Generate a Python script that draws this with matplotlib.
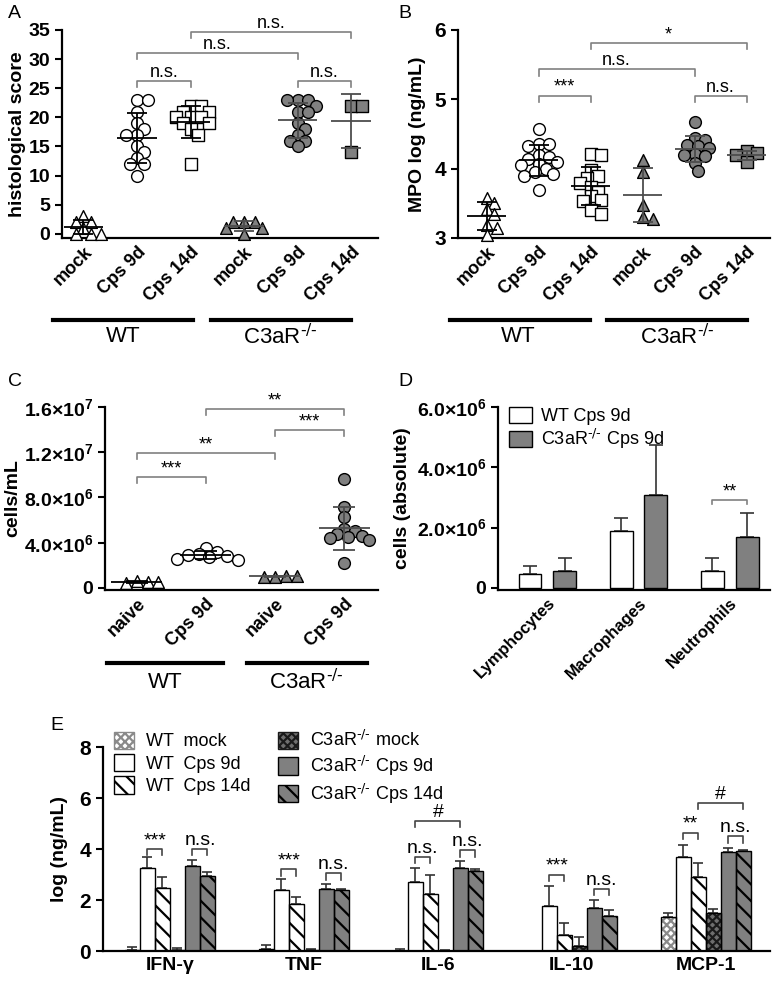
import matplotlib
matplotlib.use('Agg')
import matplotlib.pyplot as plt
from matplotlib.lines import Line2D
from matplotlib.patches import Patch
from matplotlib.transforms import blended_transform_factory
import numpy as np

plt.rcParams['font.family'] = ['Liberation Sans', 'DejaVu Sans']
plt.rcParams['mathtext.default'] = 'regular'
plt.rcParams['hatch.linewidth'] = 1.6
plt.rcParams['axes.linewidth'] = 1.6

KO = r'C3aR$^{\text{-/-}}$'
GRAY = '#808080'

# ---- A: histological score
groups_a = ['mock', 'Cps 9d', 'Cps 14d', 'mock', 'Cps 9d', 'Cps 14d']
hist_wt_mock = [3, 2, 2, 1, 0, 0, 0]
hist_wt_9d = [23, 23, 21, 19, 18, 17, 17, 15, 14, 13, 12, 12, 10]
hist_wt_14d = [22, 22, 21, 21, 20, 20, 20, 19, 19, 18, 17, 12]
hist_ko_mock = [2, 2, 2, 1, 1, 0]
hist_ko_9d = [23, 23, 23, 22, 21, 21, 19, 18, 17, 16, 16, 15]
hist_ko_14d = [22, 22, 14]

# ---- B: MPO log (ng/mL)
mpo_wt_mock = [3.58, 3.5, 3.42, 3.35, 3.18, 3.15, 3.05]
mpo_wt_9d = [4.57, 4.36, 4.35, 4.32, 4.2, 4.17, 4.14, 4.1, 4.07, 4.05, 4.0, 3.95, 3.92, 3.89, 3.69]
mpo_wt_14d = [4.21, 4.19, 3.98, 3.89, 3.87, 3.79, 3.74, 3.67, 3.6, 3.55, 3.53, 3.4, 3.34]
mpo_ko_mock = [4.12, 3.95, 3.47, 3.3, 3.28]
mpo_ko_9d = [4.67, 4.44, 4.42, 4.34, 4.33, 4.3, 4.21, 4.2, 4.18, 4.08, 3.96]
mpo_ko_14d = [4.25, 4.23, 4.19, 4.1]

# ---- C: cells/mL (x1e6)
groups_c = ['naive', 'Cps 9d', 'naive', 'Cps 9d']
cells_wt_naive = [0.6, 0.5, 0.45, 0.5]
cells_wt_9d = [3.5, 3.2, 3.0, 2.9, 2.85, 2.7, 2.6, 2.5]
cells_ko_naive = [1.0, 1.05, 1.0, 1.1]
cells_ko_9d = [9.6, 7.2, 6.3, 5.2, 5.0, 4.8, 4.6, 4.5, 4.4, 4.2, 2.2]

# ---- D: cell types (x1e6)
cell_types = ['Lymphocytes', 'Macrophages', 'Neutrophils']
d_wt_mean = [0.45, 1.9, 0.57]
d_wt_sd = [0.28, 0.43, 0.43]
d_ko_mean = [0.57, 3.07, 1.7]
d_ko_sd = [0.43, 1.66, 0.8]

# ---- E: cytokines
cytokines = ['IFN-γ', 'TNF', 'IL-6', 'IL-10', 'MCP-1']
e_labels = ['WT  mock', 'WT  Cps 9d', 'WT  Cps 14d',
            KO + ' mock', KO + ' Cps 9d', KO + ' Cps 14d']
e_wt_mock = [0.05, 0.06, 0.02, 0.0, 1.33]
e_wt_mock_sd = [0.1, 0.17, 0.06, 0.0, 0.17]
e_wt_9d = [3.25, 2.38, 2.7, 1.76, 3.7]
e_wt_9d_sd = [0.45, 0.44, 0.55, 0.79, 0.45]
e_wt_14d = [2.47, 1.85, 2.23, 0.63, 2.9]
e_wt_14d_sd = [0.43, 0.27, 0.75, 0.47, 0.55]
e_ko_mock = [0.03, 0.05, 0.02, 0.2, 1.5]
e_ko_mock_sd = [0.1, 0.03, 0.02, 0.35, 0.15]
e_ko_9d = [3.33, 2.42, 3.25, 1.69, 3.88]
e_ko_9d_sd = [0.22, 0.21, 0.28, 0.31, 0.17]
e_ko_14d = [2.93, 2.38, 3.14, 1.38, 3.92]
e_ko_14d_sd = [0.15, 0.07, 0.08, 0.22, 0.05]


def swarm(ax, vals, diam):
    # simple beeswarm: shift points sideways only when they collide
    tr = ax.transData
    x0 = tr.transform((0, 0))[0]
    ux = tr.transform((1, 0))[0] - x0
    ypx = [tr.transform((0, v))[1] for v in vals]
    placed, offs = [], []
    step = diam * 0.3
    for yp in ypx:
        k = 0
        found = None
        while found is None:
            cands = [0.0] if k == 0 else [k * step, -k * step]
            for c in cands:
                if all((c - px) ** 2 + (yp - py) ** 2 >= (0.7 * diam) ** 2 for px, py in placed):
                    found = c
                    break
            k += 1
        placed.append((found, yp))
        offs.append(found / ux)
    return np.array(offs)


def dot_panel(ax, groups, markers, fills, lcolors, cap):
    for i, (vals, m, fc, lc) in enumerate(zip(groups, markers, fills, lcolors)):
        vals = np.asarray(vals, float)
        offs = swarm(ax, vals, 12)
        ax.scatter(i + offs, vals, s=72, marker=m, facecolor=fc, edgecolor='black',
                   linewidth=1, zorder=3, clip_on=False)
        mean = vals.mean()
        sd = vals.std(ddof=1)
        ax.hlines(mean, i - 0.37, i + 0.37, color=lc, lw=1.3, zorder=4)
        ax.errorbar(i, mean, yerr=sd, fmt='none', ecolor=lc, elinewidth=1.3,
                    capsize=cap, capthick=1.3, zorder=4)


def bracket(ax, x1, x2, y, h, text, color=GRAY, fs=13):
    ax.plot([x1, x1, x2, x2], [y - h, y, y, y - h], color=color, lw=1.2, clip_on=False)
    ax.annotate(text, xy=((x1 + x2) / 2, y), xytext=(0, 0), textcoords='offset points',
                ha='center', va='bottom', fontsize=fs, annotation_clip=False)


def group_bar(ax, x1, x2, xt, text, yl, yt):
    tr = blended_transform_factory(ax.transData, ax.transAxes)
    ax.add_line(Line2D([x1, x2], [yl, yl], transform=tr, color='black', lw=3, clip_on=False))
    ax.text(xt, yt, text, transform=tr, ha='center', va='center', fontsize=16)


def style(ax, ysize=13):
    ax.spines['top'].set_visible(False)
    ax.spines['right'].set_visible(False)
    ax.tick_params(axis='y', direction='out', length=5, width=1.5, labelsize=ysize)
    ax.tick_params(axis='x', length=0, pad=4)
    for lab in ax.get_yticklabels():
        lab.set_fontweight('bold')


fig = plt.figure(figsize=(7.77, 9.85), dpi=100)

# ---------------- A
axA = fig.add_axes([0.0798, 0.7584, 0.4067, 0.2112])
axA.set_xlim(-0.4, 5.5)
axA.set_ylim(-0.7, 35)
axA.set_yticks(range(0, 36, 5))
style(axA, 14)
axA.set_xticks(range(6))
axA.set_xticklabels(groups_a, rotation=45, ha='right', rotation_mode='anchor',
                    fontsize=13, fontweight='bold')
axA.set_ylabel('histological score', fontsize=14, fontweight='bold', labelpad=2)
dot_panel(axA, [hist_wt_mock, hist_wt_9d, hist_wt_14d, hist_ko_mock, hist_ko_9d, hist_ko_14d],
          ['^', 'o', 's', '^', 'o', 's'], ['white'] * 3 + [GRAY] * 3,
          ['black'] * 3 + ['#4d4d4d'] * 3, 7)
bracket(axA, 1, 2, 26.2, 1.0, 'n.s.')
bracket(axA, 1, 4, 31.0, 1.0, 'n.s.')
bracket(axA, 2, 5, 34.7, 1.0, 'n.s.')
bracket(axA, 4, 5, 26.2, 1.0, 'n.s.')
group_bar(axA, -0.57, 2.05, 0.74, 'WT', -0.394, -0.476)
group_bar(axA, 2.38, 4.99, 3.67, KO, -0.394, -0.476)

# ---------------- B
axB = fig.add_axes([0.5894, 0.7584, 0.4015, 0.2112])
axB.set_xlim(-0.55, 5.45)
axB.set_ylim(3, 6)
axB.set_yticks([3, 4, 5, 6])
style(axB, 15)
axB.set_xticks(range(6))
axB.set_xticklabels(groups_a, rotation=45, ha='right', rotation_mode='anchor',
                    fontsize=13, fontweight='bold')
axB.set_ylabel('MPO log (ng/mL)', fontsize=14, fontweight='bold', labelpad=6)
dot_panel(axB, [mpo_wt_mock, mpo_wt_9d, mpo_wt_14d, mpo_ko_mock, mpo_ko_9d, mpo_ko_14d],
          ['^', 'o', 's', '^', 'o', 's'], ['white'] * 3 + [GRAY] * 3,
          ['black'] * 3 + ['#4d4d4d'] * 3, 7)
bracket(axB, 1, 2, 5.05, 0.09, '***')
bracket(axB, 1, 4, 5.43, 0.09, 'n.s.')
bracket(axB, 2, 5, 5.81, 0.09, '*')
bracket(axB, 4, 5, 5.05, 0.09, 'n.s.')
group_bar(axB, -0.70, 1.99, 0.6, 'WT', -0.394, -0.476)
group_bar(axB, 2.31, 5.0, 3.67, KO, -0.394, -0.476)

# ---------------- C
axC = fig.add_axes([0.1351, 0.401, 0.3514, 0.1858])
axC.set_xlim(-0.46, 3.49)
axC.set_ylim(-0.18, 16)
axC.set_yticks([0, 4, 8, 12, 16])
axC.set_yticklabels(['0', r'4.0$\times$10$^{6}$', r'8.0$\times$10$^{6}$',
                     r'1.2$\times$10$^{7}$', r'1.6$\times$10$^{7}$'])
style(axC, 14)
axC.set_xticks(range(4))
axC.set_xticklabels(groups_c, rotation=45, ha='right', rotation_mode='anchor',
                    fontsize=13, fontweight='bold')
axC.set_ylabel('cells/mL', fontsize=14, fontweight='bold', labelpad=2)
dot_panel(axC, [cells_wt_naive, cells_wt_9d, cells_ko_naive, cells_ko_9d],
          ['^', 'o', '^', 'o'], ['white', 'white', GRAY, GRAY],
          ['black', 'black', '#4d4d4d', '#4d4d4d'], 8)
bracket(axC, 0, 1, 9.78, 0.47, '***')
bracket(axC, 0, 2, 11.9, 0.47, '**')
bracket(axC, 2, 3, 13.95, 0.47, '***')
bracket(axC, 1, 3, 15.8, 0.47, '**')
group_bar(axC, -0.43, 1.25, 0.41, 'WT', -0.399, -0.503)
group_bar(axC, 1.59, 3.33, 2.46, KO, -0.399, -0.503)

# ---------------- D
axD = fig.add_axes([0.6409, 0.401, 0.350, 0.1858])
xd = np.arange(len(cell_types))
axD.bar(xd - 0.19, d_wt_mean, 0.25, color='white', edgecolor='black', lw=1, zorder=2)
axD.bar(xd + 0.19, d_ko_mean, 0.25, color=GRAY, edgecolor='black', lw=1, zorder=2)
axD.errorbar(xd - 0.19, d_wt_mean, yerr=[np.zeros(3), d_wt_sd], fmt='none',
             ecolor='#333333', elinewidth=1.2, capsize=5, capthick=1.2, zorder=1)
axD.errorbar(xd + 0.19, d_ko_mean, yerr=[np.zeros(3), d_ko_sd], fmt='none',
             ecolor='#333333', elinewidth=1.2, capsize=5, capthick=1.2, zorder=1)
axD.set_xlim(-0.54, 2.44)
axD.set_ylim(-0.07, 6)
axD.set_yticks([0, 2, 4, 6])
axD.set_yticklabels(['0', r'2.0$\times$10$^{6}$', r'4.0$\times$10$^{6}$', r'6.0$\times$10$^{6}$'])
style(axD, 14)
axD.set_xticks(xd)
axD.set_xticklabels(cell_types, rotation=45, ha='right', rotation_mode='anchor',
                    fontsize=12, fontweight='bold')
axD.set_ylabel('cells (absolute)', fontsize=14, fontweight='bold', labelpad=4)
bracket(axD, 2 - 0.19, 2 + 0.19, 2.9, 0.12, '**')
axD.legend(handles=[Patch(facecolor='white', edgecolor='black', label='WT Cps 9d'),
                    Patch(facecolor=GRAY, edgecolor='black', label=KO + ' Cps 9d')],
           loc='upper left', bbox_to_anchor=(0.0, 1.06), frameon=False, fontsize=13,
           handlelength=1.3, handleheight=1.0, handletextpad=0.5, labelspacing=0.1,
           borderaxespad=0.2)

# ---------------- E
axE = fig.add_axes([0.1326, 0.0345, 0.8584, 0.2071])
xe = np.arange(len(cytokines))
bw = 0.112
# (values, sd, face, hatch, hatch colour)
e_series = [(e_wt_mock, e_wt_mock_sd, 'white', 'xxxx', '#8a8a8a'),
            (e_wt_9d, e_wt_9d_sd, 'white', None, 'black'),
            (e_wt_14d, e_wt_14d_sd, 'white', '\\\\', 'black'),
            (e_ko_mock, e_ko_mock_sd, '#6e6e6e', 'xxxx', '#1a1a1a'),
            (e_ko_9d, e_ko_9d_sd, GRAY, None, 'black'),
            (e_ko_14d, e_ko_14d_sd, GRAY, '\\\\', 'black')]
handles = []
for i, (vals, sds, fc, hatch, hc) in enumerate(e_series):
    pos = xe + (i - 2.5) * bw
    axE.bar(pos, vals, bw, color=fc, edgecolor=hc, lw=0, hatch=hatch, zorder=2)
    axE.bar(pos, vals, bw, fill=False, edgecolor='black', lw=1, zorder=2.5)
    axE.errorbar(pos, vals, yerr=[np.zeros(len(vals)), sds], fmt='none', ecolor='#333333',
                 elinewidth=1.2, capsize=3.5, capthick=1.2, zorder=1)
    handles.append(Patch(facecolor=fc, edgecolor=hc, hatch=hatch, lw=1, label=e_labels[i]))
axE.set_xlim(-0.5, 4.48)
axE.set_ylim(0, 8)
axE.set_yticks([0, 2, 4, 6, 8])
style(axE, 15)
axE.set_xticks(xe)
axE.set_xticklabels(cytokines, fontsize=14, fontweight='bold')
axE.set_ylabel('log (ng/mL)', fontsize=14, fontweight='bold', labelpad=8)


def ebr(g, i1, i2, y, text):
    bracket(axE, g + (i1 - 2.5) * bw, g + (i2 - 2.5) * bw, y, 0.25, text, color='#444444', fs=14)


ebr(0, 1, 2, 4.0, '***')
ebr(0, 4, 5, 4.0, 'n.s.')
ebr(1, 1, 2, 3.2, '***')
ebr(1, 4, 5, 3.05, 'n.s.')
ebr(2, 1, 2, 3.7, 'n.s.')
ebr(2, 4, 5, 3.95, 'n.s.')
ebr(2, 1, 4, 5.1, '#')
ebr(3, 1, 2, 3.0, '***')
ebr(3, 4, 5, 2.45, 'n.s.')
ebr(4, 1, 2, 4.63, '**')
ebr(4, 4, 5, 4.5, 'n.s.')
ebr(4, 2, 5, 5.8, '#')
axE.legend(handles=handles, ncol=2, loc='upper left', bbox_to_anchor=(0.0, 1.135),
           frameon=False, fontsize=13, handlelength=1.1, handleheight=1.1,
           handletextpad=0.7, labelspacing=0.2, columnspacing=1.5, borderaxespad=0.2)

# panel letters
for lbl, x, y in [('A', 8, 13), ('B', 398, 13), ('C', 8, 382), ('D', 398, 382), ('E', 50, 725)]:
    fig.text(x / 777, 1 - y / 985, lbl, fontsize=14, ha='left', va='center')

fig.savefig('out.png', dpi=100)
